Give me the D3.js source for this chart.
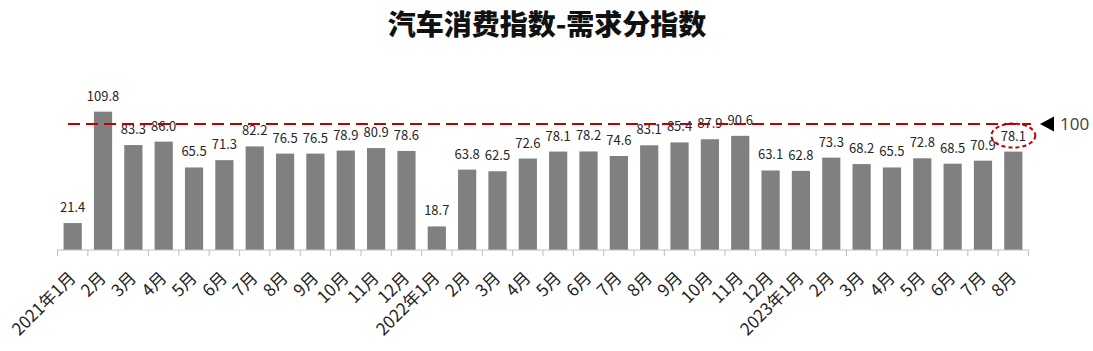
<!DOCTYPE html>
<html lang="zh">
  <head>
    <meta charset="utf-8" />
    <title>汽车消费指数-需求分指数</title>
    <script src="https://d3js.org/d3.v7.min.js"></script>
    <style type="text/css">
      body {
        margin: 0;
        background: #fff;
        font-family: "Noto Sans CJK SC", "Open Sans", sans-serif;
      }
      svg {
        display: block;
      }
    </style>
  </head>
  <body>
    <svg id="chart" width="1093" height="351"></svg>
    <script type="text/javascript">
      // months, 2021年1月 .. 2023年8月
      const months = ["2021年1月", "2月", "3月", "4月", "5月", "6月", "7月", "8月", "9月", "10月", "11月", "12月",
                      "2022年1月", "2月", "3月", "4月", "5月", "6月", "7月", "8月", "9月", "10月", "11月", "12月",
                      "2023年1月", "2月", "3月", "4月", "5月", "6月", "7月", "8月"];
      const values = [21.4, 109.8, 83.3, 86.0, 65.5, 71.3, 82.2, 76.5, 76.5, 78.9, 80.9, 78.6,
                      18.7, 63.8, 62.5, 72.6, 78.1, 78.2, 74.6, 83.1, 85.4, 87.9, 90.6, 63.1,
                      62.8, 73.3, 68.2, 65.5, 72.8, 68.5, 70.9, 78.1];
      const refValue = 100;

      const svg = d3.select("#chart");
      const keys = months.map((m, i) => i);

      const x = d3.scaleBand()
          .domain(keys)
          .range([57.5, 1028.5])
          .paddingInner(0.4)
          .paddingOuter(0.2);

      const y = d3.scaleLinear()
          .domain([0, 100])
          .range([250, 124]);

      // title
      svg.append("text")
          .attr("x", 547)
          .attr("y", 35)
          .attr("text-anchor", "middle")
          .attr("font-size", "28px")
          .attr("font-weight", "900")
          .attr("fill", "#111")
          .text("汽车消费指数-需求分指数");

      // bars
      svg.selectAll("rect.bar")
          .data(values)
          .enter()
          .append("rect")
          .attr("class", "bar")
          .attr("x", (d, i) => x(i))
          .attr("y", d => y(d))
          .attr("width", x.bandwidth())
          .attr("height", d => y(0) - y(d))
          .attr("fill", "#808080");

      // value labels
      svg.selectAll("text.val")
          .data(values)
          .enter()
          .append("text")
          .attr("class", "val")
          .attr("x", (d, i) => x(i) + x.bandwidth() / 2)
          .attr("y", d => y(d) - 11)
          .attr("text-anchor", "middle")
          .attr("font-size", "13px")
          .attr("fill", "#262626")
          .text(d => d.toFixed(1));

      // x axis
      const xAxis = d3.axisBottom(x)
          .tickValues(keys)
          .tickFormat(i => months[i])
          .tickSize(0);
      const gx = svg.append("g")
          .attr("transform", `translate(0,${y(0)})`)
          .call(xAxis);
      gx.select(".domain")
          .attr("stroke", "#bfbfbf")
          .attr("d", `M${x.range()[0]},0H${x.range()[1]}`);
      gx.selectAll(".tick line").remove();
      gx.selectAll(".tick text")
          .attr("font-family", "'Noto Sans CJK SC', sans-serif")
          .attr("font-weight", "400")
          .attr("font-size", "17px")
          .attr("fill", "#222")
          .attr("text-anchor", "end")
          .attr("transform", "translate(4,29) rotate(-45)")
          .attr("dy", "0")
          .attr("y", 0);
      // tick marks between categories
      const edges = d3.range(keys.length + 1).map(i => x.range()[0] + i * (x.range()[1] - x.range()[0]) / keys.length);
      gx.selectAll("line.sep")
          .data(edges)
          .enter()
          .append("line")
          .attr("class", "sep")
          .attr("x1", d => d)
          .attr("x2", d => d)
          .attr("y1", 0)
          .attr("y2", 6)
          .attr("stroke", "#bfbfbf");

      // reference line at 100
      svg.append("line")
          .attr("x1", 68)
          .attr("x2", 1031)
          .attr("y1", y(refValue))
          .attr("y2", y(refValue))
          .attr("stroke", "#c00000")
          .attr("stroke-width", 2)
          .attr("stroke-dasharray", "12,6");

      // marker and label
      const ry = y(refValue);
      svg.append("path")
          .attr("d", `M1040,${ry}L1054,${ry - 7.5}L1054,${ry + 7.5}Z`)
          .attr("fill", "#000");
      svg.append("text")
          .attr("x", 1060)
          .attr("y", ry + 6)
          .attr("font-family", "'Open Sans', sans-serif")
          .attr("font-size", "17px")
          .attr("fill", "#404040")
          .text(refValue);

      // highlight circle around the latest value
      const last = values.length - 1;
      svg.append("ellipse")
          .attr("cx", x(last) + x.bandwidth() / 2)
          .attr("cy", y(values[last]) - 16)
          .attr("rx", 22)
          .attr("ry", 12)
          .attr("fill", "none")
          .attr("stroke", "#c00000")
          .attr("stroke-width", 2)
          .attr("stroke-dasharray", "4,3");
    </script>
  </body>
</html>
